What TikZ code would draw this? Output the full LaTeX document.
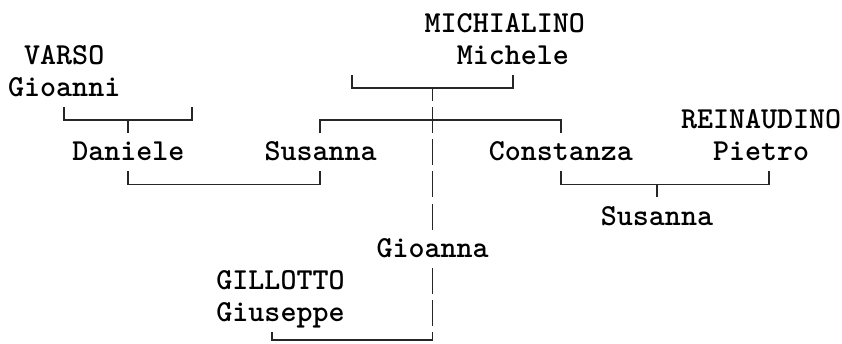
\documentclass[tikz,border=0pt]{standalone}
\usepackage{fontspec}
\usetikzlibrary{calc}

\begin{document}
\begin{tikzpicture}[x=16.02pt, y=-32.1pt, shift={(16pt,-24pt)}]
    \tikzstyle{person} = [anchor=base west, inner sep=0pt, xshift=-8.01pt, yshift=-8.5pt, font=\ttfamily\bfseries\fontsize{30.5}{36}\selectfont]
    \tikzstyle{link} = [line width=1.9pt, draw=black!85]
    \tikzstyle{stem} = [link, dash pattern=on 26pt off 6.1pt]
    \def\hr{0.405}
    \useasboundingbox (-16pt,24pt) rectangle (826pt,-320pt);

    % Persone
    \node[person] (michialino) at (26,0) {MICHIALINO};
    \node[person] (michele) at (28,1) {Michele};
    \node[person] (varso) at (1,1) {VARSO};
    \node[person] (gioanni) at (0,2) {Gioanni};
    \node[person] (reinaudino) at (42,3) {REINAUDINO};
    \node[person] (daniele) at (4,4) {Daniele};
    \node[person] (susanna) at (16,4) {Susanna};
    \node[person] (constanza) at (30,4) {Constanza};
    \node[person] (pietro) at (44,4) {Pietro};
    \node[person] (susannab) at (37,6) {Susanna};
    \node[person] (gioanna) at (23,7) {Gioanna};
    \node[person] (gillotto) at (13,8) {GILLOTTO};
    \node[person] (giuseppe) at (13,9) {Giuseppe};

    % Coppie
    \draw[link] (21,{2-\hr}) |- (31,2) -- (31,{2-\hr});
    \draw[link] (3,{3-\hr}) |- (11,3) -- (11,{3-\hr});
    \draw[link] (7,3) -- (7,{3+\hr});
    \draw[link] (7,{5-\hr}) |- (19,5) -- (19,{5-\hr});
    \draw[link] (34,{5-\hr}) |- (47,5) -- (47,{5-\hr});
    \draw[link] (40,5) -- (40,{5+\hr});
    \draw[link] (16,{10-\hr}) |- (26,9.844);

    % Figli
    \draw[link] (19,{3+\hr}) |- (34,3) -- (34,{3+\hr});
    \draw[stem, dash phase=13pt] (26,2) -- (26,{6+\hr});
    \draw[stem] (26,{8-\hr}) -- (26,9.844);
\end{tikzpicture}
\end{document}
